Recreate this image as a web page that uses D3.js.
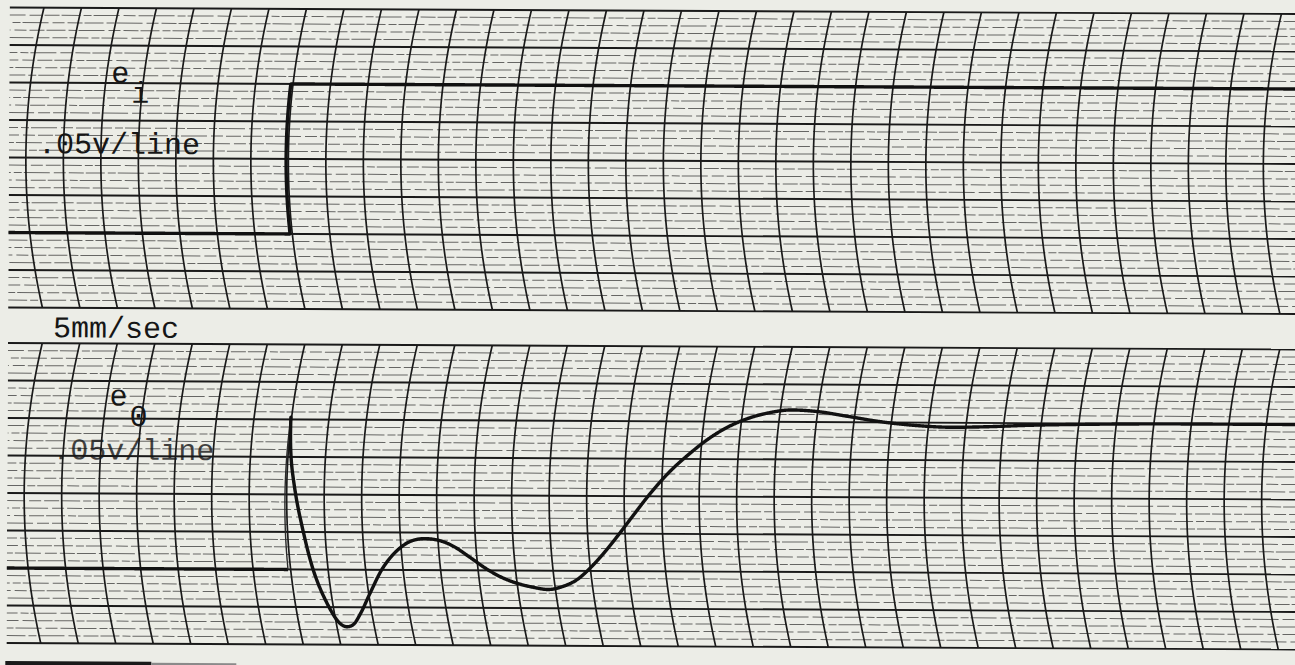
<!DOCTYPE html>
<html><head><meta charset="utf-8">
<script src="https://cdn.jsdelivr.net/npm/d3@7"></script>
<style>
html,body{margin:0;padding:0;background:#ecede7;}
svg{display:block;}
</style></head><body>
<svg id="chart" width="1295" height="665"></svg>
<script>
// ---------------- data ----------------
// time in chart divisions (5 mm/sec paper speed), step applied at t = 0
const timeTicks = d3.range(-8, 28);
// vertical scale: 0.05 V per line
const voltTicks = [-0.1, -0.05, 0, 0.05, 0.1, 0.15, 0.2, 0.25, 0.3];
// input e_i : step
const inputTime  = [-7.8, -0.06, -0.06, 27];
const inputVolts = [0, 0, 0.2, 0.2];
// output e_o : response
const outputTime  = [-7.8, -0.07, -0.02, 0.06, 0.22, 0.41, 0.60, 0.85, 1.09, 1.27, 1.45, 1.70, 2.04, 2.47, 2.89, 3.30, 3.65, 4.00, 4.40, 4.80, 5.20, 5.60, 6.00, 6.40, 6.80, 7.20, 7.60, 8.00, 8.40, 8.80, 9.20, 9.70, 10.20, 10.70, 11.20, 11.70, 12.20, 12.70, 13.30, 14.00, 14.80, 15.70, 16.70, 17.60, 18.60, 19.60, 21.40, 24.00, 27.0];
const outputVolts = [0, 0, 0.203, 0.160, 0.106, 0.053, 0.000, -0.045, -0.071, -0.076, -0.073, -0.058, -0.031, 0.003, 0.026, 0.039, 0.042, 0.040, 0.032, 0.018, 0.003, -0.009, -0.017, -0.022, -0.025, -0.021, -0.012, 0.004, 0.024, 0.047, 0.072, 0.104, 0.133, 0.157, 0.178, 0.194, 0.205, 0.212, 0.216, 0.214, 0.208, 0.201, 0.196, 0.194, 0.195, 0.197, 0.199, 0.200, 0.200];
const labelsTop    = {sym: "e", sub: "i", scale: ".05v/line"};
const labelsBottom = {sym: "e", sub: "0", scale: ".05v/line"};
const speedLabel = "5mm/sec";

// ---------------- layout ----------------
const W = 1295, H = 665;
const panels = [
  {top: 7.5, bottom: 307.5},
  {top: 343, bottom: 643}
];
const xLeft = 8, xRight = 1295;
const R = 650; // pen arc radius (px)

const svg = d3.select("#chart");
svg.append("rect").attr("width", W).attr("height", H).attr("fill", "#ecede7");

const root = svg.append("g").attr("transform", "rotate(0.287,0,330)");

const xScale = d3.scaleLinear().domain([-7, 27]).range([25, 1300]);

function makePanel(p, idx) {
  const yScale = d3.scaleLinear().domain([-0.1, 0.3]).range([p.bottom, p.top]);
  const yc = (p.top + p.bottom) / 2;
  const warp = (x, y) => [x + (y - yc) * (y - yc) / (2 * R), y];
  const clipId = "clip" + idx;
  svg.append("defs").append("clipPath").attr("id", clipId)
    .append("rect").attr("x", xLeft).attr("y", p.top - 2)
    .attr("width", xRight - xLeft + 20).attr("height", p.bottom - p.top + 4);
  const g = root.append("g").attr("clip-path", `url(#${clipId})`);

  // minor horizontal lines (4 per major division)
  const minor = [];
  for (let i = 0; i < voltTicks.length - 1; i++) {
    for (let j = 1; j < 5; j++) minor.push(voltTicks[i] + j * 0.01);
  }
  g.selectAll(".minor").data(minor).join("line")
    .attr("x1", xLeft).attr("x2", xRight + 10)
    .attr("y1", d => yScale(d)).attr("y2", d => yScale(d))
    .attr("stroke", "#333").attr("stroke-width", 1)
    .attr("opacity", 0.72)
    .attr("stroke-dasharray", "19,3,8,2,26,4,12,3,15,2")
    .attr("stroke-dashoffset", (d, i) => (i * 23) % 61);

  // major horizontal lines
  g.selectAll(".major").data(voltTicks).join("line")
    .attr("x1", xLeft).attr("x2", xRight + 10)
    .attr("y1", d => yScale(d)).attr("y2", d => yScale(d))
    .attr("stroke", "#1a1a1a").attr("stroke-width", 1.9);

  // curvilinear time lines
  const arcLine = d3.line();
  g.selectAll(".tline").data(timeTicks).join("path")
    .attr("d", t => {
      const pts = d3.range(0, 41).map(k => {
        const y = p.top + (p.bottom - p.top) * k / 40;
        return warp(xScale(t), y);
      });
      return arcLine(pts);
    })
    .attr("fill", "none").attr("stroke", "#1a1a1a").attr("stroke-width", 1.7);

  return {g, yScale, warp};
}

function warpedPath(times, volts, yScale, warp, curve) {
  const data = times.map((t, i) => [xScale(t), yScale(volts[i])]);
  const d0 = d3.line().curve(curve)(data);
  const tmp = svg.append("path").attr("d", d0).attr("visibility", "hidden");
  const node = tmp.node();
  const L = node.getTotalLength();
  const pts = [];
  for (let s = 0; s <= L; s += 0.5) {
    const q = node.getPointAtLength(s);
    pts.push(warp(q.x, q.y));
  }
  const q = node.getPointAtLength(L);
  pts.push(warp(q.x, q.y));
  tmp.remove();
  return d3.line()(pts);
}

const P0 = makePanel(panels[0], 0);
const P1 = makePanel(panels[1], 1);

// input trace
P0.g.append("path")
  .attr("d", warpedPath(inputTime, inputVolts, P0.yScale, P0.warp, d3.curveLinear))
  .attr("fill", "none").attr("stroke", "#111").attr("stroke-width", 3.4)
  .attr("stroke-linejoin", "round").attr("stroke-linecap", "round");

// output trace: baseline, thin up-stroke, then response
P1.g.append("path")
  .attr("d", warpedPath(outputTime.slice(0, 2), outputVolts.slice(0, 2), P1.yScale, P1.warp, d3.curveLinear))
  .attr("fill", "none").attr("stroke", "#111").attr("stroke-width", 3.4);
P1.g.append("path")
  .attr("d", warpedPath(outputTime.slice(1, 3), outputVolts.slice(1, 3), P1.yScale, P1.warp, d3.curveLinear))
  .attr("fill", "none").attr("stroke", "#2a2a2a").attr("stroke-width", 1.4);
P1.g.append("path")
  .attr("d", warpedPath(outputTime.slice(2), outputVolts.slice(2), P1.yScale, P1.warp, d3.curveMonotoneX))
  .attr("fill", "none").attr("stroke", "#111").attr("stroke-width", 3.4)
  .attr("stroke-linejoin", "round").attr("stroke-linecap", "round");

// ---------------- labels (typewriter) ----------------
const font = "'Liberation Mono', 'DejaVu Sans Mono', monospace";
function txt(x, y, s, op) {
  root.append("text").attr("x", x).attr("y", y).text(s)
    .attr("font-family", font).attr("font-size", 30)
    .attr("fill", "#161616").attr("opacity", op || 1);
}
txt(110, 82, labelsTop.sym);
txt(130, 102, labelsTop.sub);
txt(37, 153, labelsTop.scale);
txt(53, 337, speedLabel);
txt(110, 405, labelsBottom.sym);
txt(130, 425, labelsBottom.sub);
txt(53, 459, labelsBottom.scale, 0.8);

// bottom edge strip
root.append("rect").attr("x", 7).attr("y", 661).attr("width", 146).attr("height", 4).attr("fill", "#1a1a1a");
root.append("rect").attr("x", 153).attr("y", 662).attr("width", 85).attr("height", 3).attr("fill", "#8a8a8a");
</script>
</body></html>
